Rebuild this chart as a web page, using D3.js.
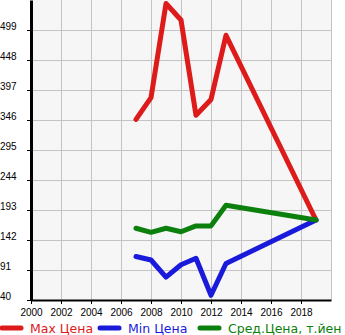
<!DOCTYPE html>
<html><head><meta charset="utf-8">
<script src="https://cdn.jsdelivr.net/npm/d3@7"></script>
<style>body{margin:0;background:#fff;}svg{display:block;font-family:"DejaVu Sans",sans-serif;}</style>
</head><body>
<svg id="c" width="345" height="335"></svg>
<script>
const years = [2007, 2008, 2009, 2010, 2011, 2012, 2013, 2019];
const maxPrice = [347, 384, 544, 516, 354, 381, 490, 176];
const minPrice = [114, 108, 79, 100, 111, 48, 102, 176];
const avgPrice = [162, 155, 162, 156, 166, 166, 201, 176];
const yTicks = [40, 91, 142, 193, 244, 295, 346, 397, 448, 499];
const xTicks = [2000, 2002, 2004, 2006, 2008, 2010, 2012, 2014, 2016, 2018];
const seriesNames = ["Max Цена", "Min Цена", "Сред.Цена, т.йен"];
const colors = ["#dd1b1b", "#1a1adb", "#0c800c"];

const svg = d3.select("#c");
const L = 31, R = 331, T = 0, B = 300;
const x = d3.scaleLinear().domain([2000, 2020]).range([L, R]);
const y = d3.scaleLinear().domain([40, 550]).range([B, T]);

svg.append("rect").attr("x", L).attr("y", T).attr("width", R - L).attr("height", B - T).attr("fill", "#f6f6f6");

const g = svg.append("g");
g.selectAll(".vg").data(xTicks.slice(1).concat([2020])).enter().append("line")
  .attr("x1", d => x(d)).attr("x2", d => x(d)).attr("y1", T).attr("y2", B)
  .attr("stroke", "#c4c4c4").attr("stroke-width", 1).attr("shape-rendering", "crispEdges");
g.selectAll(".hg").data(yTicks.slice(1)).enter().append("line")
  .attr("x1", L).attr("x2", R).attr("y1", d => y(d)).attr("y2", d => y(d))
  .attr("stroke", "#c4c4c4").attr("stroke-width", 1).attr("shape-rendering", "crispEdges");

const line = d3.line().x((d, i) => x(years[i])).y(d => y(d));
[maxPrice, minPrice, avgPrice].forEach((s, k) => {
  svg.append("path").datum(s).attr("d", line).attr("fill", "none")
    .attr("stroke", colors[k]).attr("stroke-width", 5)
    .attr("stroke-linejoin", "round").attr("stroke-linecap", "round");
});

// axes
const xAxis = d3.axisBottom(x).tickValues(xTicks).tickFormat(d3.format("d")).tickSize(4).tickSizeOuter(0);
const xg = svg.append("g").attr("transform", `translate(0,${B})`).call(xAxis);
xg.select(".domain").attr("stroke", "#000").attr("stroke-width", 2);
xg.selectAll(".tick line").attr("stroke", "#000");
xg.selectAll("text").attr("font-size", 10).attr("fill", "#000").attr("dy", "0.9em");

const yAxis = d3.axisLeft(y).tickValues(yTicks).tickSize(4).tickSizeOuter(0);
const yg = svg.append("g").attr("transform", `translate(${L},0)`).call(yAxis);
yg.select(".domain").attr("stroke", "#000").attr("stroke-width", 3);
yg.selectAll(".tick line").attr("stroke", "#000");
yg.selectAll("text").attr("font-size", 10).attr("fill", "#000")
  .attr("text-anchor", "start").attr("x", -31).attr("dy", "-0.1em");

// legend
const legX = [0, 98, 198];
seriesNames.forEach((n, k) => {
  svg.append("line").attr("x1", legX[k] + 2).attr("x2", legX[k] + 21).attr("y1", 328).attr("y2", 328)
    .attr("stroke", colors[k]).attr("stroke-width", 5).attr("stroke-linecap", "round");
  svg.append("text").attr("x", legX[k] + 30).attr("y", 333).attr("font-size", 12.5)
    .attr("fill", colors[k]).text(n);
});
</script>
</body></html>
